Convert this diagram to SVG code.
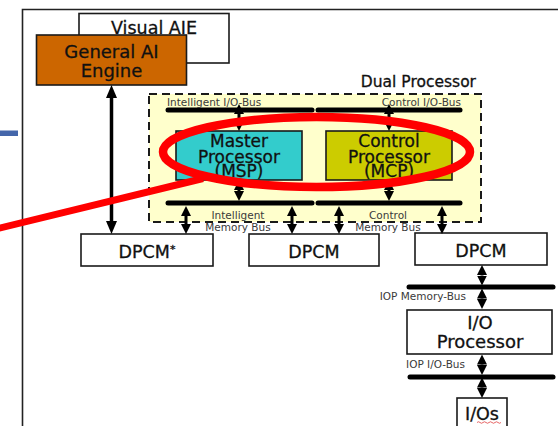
<svg xmlns="http://www.w3.org/2000/svg" width="558" height="426" viewBox="0 0 558 426">
<style>
.box{fill:#fff;stroke:#1a1a1a;stroke-width:1.6}
.lbl{font-family:"DejaVu Sans","Noto Sans",sans-serif;fill:#111;text-anchor:middle;stroke:#111;stroke-width:0.3}
.big{font-size:17.5px}
.proc{font-size:17px}
.sm{font-family:"DejaVu Sans","Noto Sans",sans-serif;font-size:10.5px;fill:#3a3a3a}
.bus{stroke:#000;stroke-width:5;stroke-linecap:round}
.arr{stroke:#000;stroke-width:3}
.arrL{stroke:#000;stroke-width:3.5}
</style>
<defs>
<marker id="hd" markerUnits="userSpaceOnUse" markerWidth="10" markerHeight="10" viewBox="0 0 10 10" refX="0" refY="5" orient="auto-start-reverse"><path d="M0,0 L10,5 L0,10 z" fill="#000"/></marker>
<marker id="hdL" markerUnits="userSpaceOnUse" markerWidth="13" markerHeight="11" viewBox="0 0 13 11" refX="0" refY="5.5" orient="auto-start-reverse"><path d="M0,0 L13,5.5 L0,11 z" fill="#000"/></marker>
</defs>

<rect x="0" y="130.5" width="18" height="5.5" fill="#4466AA"/>
<path d="M22.5,426 V9.5 H558" fill="none" stroke="#222" stroke-width="1.6"/>

<g id="visual-aie">
<rect class="box" x="79" y="13.5" width="150" height="49.5"/>
<text class="lbl big" x="154" y="34">Visual AIE</text>
</g>
<g id="general-ai-engine">
<rect class="box" x="36.5" y="35" width="150" height="50" style="fill:#CC6600"/>
<text class="lbl" x="111.5" y="58" font-size="18">General AI</text>
<text class="lbl" x="111.5" y="77" font-size="18">Engine</text>
</g>

<g id="dual-processor">
<rect x="149" y="94" width="332" height="128" fill="#FFFFCC" stroke="#1a1a1a" stroke-width="2" stroke-dasharray="8,5"/>
<text class="lbl" x="476" y="87" font-size="15.5" style="text-anchor:end">Dual Processor</text>
</g>

<g id="buses">
<line class="bus" x1="168" y1="110" x2="312" y2="110"/>
<line class="bus" x1="318" y1="110" x2="460" y2="110"/>
<line class="bus" x1="168" y1="203" x2="312" y2="203"/>
<line class="bus" x1="318" y1="203" x2="460" y2="203"/>
<line class="bus" x1="409" y1="287" x2="553" y2="287"/>
<line class="bus" x1="410" y1="377" x2="553" y2="377"/>
<text class="sm" x="167" y="106" font-size="11">Intelligent I/O-Bus</text>
<text class="sm" x="461" y="106" font-size="11" text-anchor="end">Control I/O-Bus</text>
<text class="sm" x="238" y="219" text-anchor="middle">Intelligent</text>
<text class="sm" x="238" y="231" text-anchor="middle">Memory Bus</text>
<text class="sm" x="388" y="219" text-anchor="middle">Control</text>
<text class="sm" x="388" y="231" text-anchor="middle">Memory Bus</text>
<text class="sm" x="466" y="300" text-anchor="end">IOP Memory-Bus</text>
<text class="sm" x="465" y="368" text-anchor="end">IOP I/O-Bus</text>
</g>

<g id="msp">
<rect class="box" x="176" y="131" width="126" height="49" style="fill:#33CCCC"/>
<text class="lbl proc" x="239" y="147">Master</text>
<text class="lbl proc" x="239" y="162.5">Processor</text>
<text class="lbl proc" x="239" y="177">(MSP)</text>
</g>
<g id="mcp">
<rect class="box" x="326" y="131" width="126" height="49" style="fill:#CCCC00"/>
<text class="lbl proc" x="389" y="147">Control</text>
<text class="lbl proc" x="389" y="162.5">Processor</text>
<text class="lbl proc" x="389" y="177">(MCP)</text>
</g>

<g id="dpcm-star">
<rect class="box" x="81" y="234" width="132" height="32"/>
<text class="lbl big" x="147" y="258">DPCM<tspan font-size="11" dy="-5">*</tspan></text>
</g>
<g id="dpcm-mid">
<rect class="box" x="249" y="234" width="130" height="32"/>
<text class="lbl big" x="314" y="258">DPCM</text>
</g>
<g id="dpcm-right">
<rect class="box" x="415" y="233" width="132" height="32"/>
<text class="lbl big" x="481" y="257">DPCM</text>
</g>
<g id="io-processor">
<rect class="box" x="407" y="310" width="145" height="44"/>
<text class="lbl" x="480" y="329" font-size="18">I/O</text>
<text class="lbl" x="480" y="348" font-size="18">Processor</text>
</g>
<g id="ios">
<rect class="box" x="457" y="398" width="50" height="32"/>
<text class="lbl big" x="482" y="420">I/Os</text>
<path d="M477,422.5 q1.5,-1.5 3,0 t3,0 t3,0 t3,0 t3,0 t3,0 t3,0 t3,0" fill="none" stroke="#E04040" stroke-width="0.8"/>
</g>

<g id="connectors">
<line class="arrL" x1="111.5" y1="98" x2="111.5" y2="221" marker-start="url(#hdL)" marker-end="url(#hdL)"/>
<line class="arr" x1="239" y1="114" x2="239" y2="121" marker-start="url(#hd)" marker-end="url(#hd)"/>
<line class="arr" x1="389" y1="114" x2="389" y2="121" marker-start="url(#hd)" marker-end="url(#hd)"/>
<line class="arr" x1="239" y1="190" x2="239" y2="191" marker-start="url(#hd)" marker-end="url(#hd)"/>
<line class="arr" x1="389" y1="190" x2="389" y2="191" marker-start="url(#hd)" marker-end="url(#hd)"/>
<line class="arr" x1="186" y1="216" x2="186" y2="224" marker-start="url(#hd)" marker-end="url(#hd)"/>
<line class="arr" x1="292" y1="216" x2="292" y2="224" marker-start="url(#hd)" marker-end="url(#hd)"/>
<line class="arr" x1="339" y1="216" x2="339" y2="224" marker-start="url(#hd)" marker-end="url(#hd)"/>
<line class="arr" x1="442" y1="216" x2="442" y2="224" marker-start="url(#hd)" marker-end="url(#hd)"/>
<line class="arr" x1="482" y1="275" x2="482" y2="275.5" marker-start="url(#hd)" marker-end="url(#hd)"/>
<line class="arr" x1="482" y1="298.5" x2="482" y2="299" marker-start="url(#hd)" marker-end="url(#hd)"/>
<line class="arr" x1="482" y1="364.5" x2="482" y2="365" marker-start="url(#hd)" marker-end="url(#hd)"/>
<line class="arr" x1="482" y1="387.5" x2="482" y2="388" marker-start="url(#hd)" marker-end="url(#hd)"/>
</g>

<g id="highlight">
<ellipse cx="316.5" cy="152" rx="153.5" ry="35" fill="none" stroke="#FF0000" stroke-width="8.5"/>
<line x1="-2" y1="228.5" x2="203" y2="178.5" stroke="#FF0000" stroke-width="7"/>
</g>
</svg>
